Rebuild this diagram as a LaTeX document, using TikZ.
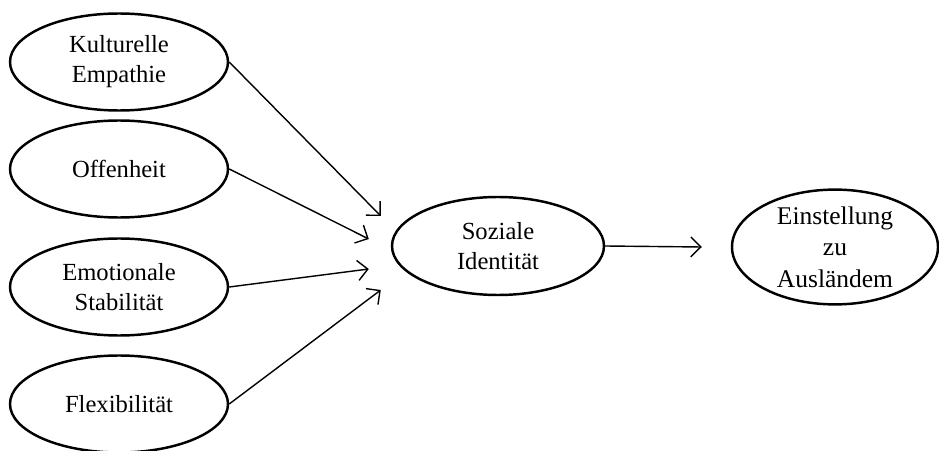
\documentclass[tikz,border=0pt]{standalone}
\usepackage{fontspec}
\setmainfont{Liberation Serif}
\usetikzlibrary{positioning, calc, arrows.meta, shapes.geometric}

\tikzset{
    factor/.style={draw, ellipse, line width=1.4pt, inner sep=0pt, align=center,
        minimum width=4.36cm, minimum height=1.94cm, font=\fontsize{14}{17}\selectfont},
    path/.style={line width=0.8pt, -{Straight Barb[length=2mm,width=4mm]}}
}

\begin{document}
\begin{tikzpicture}
                \useasboundingbox (0,0) rectangle (18.78,9);
                \node[factor] (kult) at (2.38,7.76) {Kulturelle\\Empathie};
                \node[factor] (offen) at (2.38,5.62) {Offenheit};
                \node[factor] (emo) at (2.38,3.26) {Emotionale\\Stabilität};
                \node[factor] (flex) at (2.38,0.92) {Flexibilität};
                \node[factor, minimum width=4.24cm, minimum height=1.96cm] (soz) at (9.96,4.08) {Soziale\\Identität};
                \node[factor, minimum width=4.12cm, minimum height=1.98cm, font=\fontsize{14.5}{18}\selectfont] (einst) at (16.7,4.06) {Einstellung\\zu\\Ausländem};
                % free ends of the arrows
                \coordinate (in1) at ($(soz.west)+(-0.2,0.6)$);
                \coordinate (in2) at ($(soz.west)+(-0.44,0.14)$);
                \coordinate (in3) at ($(soz.west)+(-0.44,-0.46)$);
                \coordinate (in4) at ($(soz.west)+(-0.2,-0.88)$);
                \coordinate (out) at ($(einst.west)+(-0.58,0)$);
                \draw[path] (kult.east) -- (in1);
                \draw[path] (offen.east) -- (in2);
                \draw[path] (emo.east) -- (in3);
                \draw[path] (flex.east) -- (in4);
                \draw[path] (soz.east) -- (out);
            \end{tikzpicture}
\end{document}
